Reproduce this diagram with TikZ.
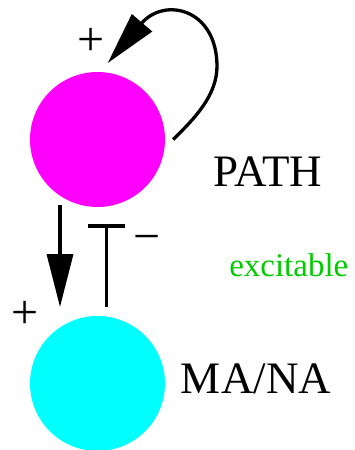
\documentclass[tikz,border=0pt]{standalone}
\usepackage{fontspec}
\setmainfont{Liberation Serif}
\usetikzlibrary{arrows.meta}
\definecolor{exgreen}{RGB}{0,204,0}
\tikzset{
  species/.style={circle, minimum size=135pt, inner sep=0pt, draw=none},
  bigtxt/.style={font=\fontsize{45}{54}\selectfont, inner sep=0pt, anchor=base},
  signtxt/.style={font=\fontsize{48}{56}\selectfont, inner sep=0pt, anchor=base},
  edge/.style={line width=3.3pt},
  act/.style={edge, -{Triangle[length=53pt, width=26pt]}},
  inh/.style={edge, -{Bar[width=37pt, line width=4pt]}}
}
\begin{document}
\begin{tikzpicture}[x=1pt, y=-1pt]
\useasboundingbox (0,0) rectangle (354,450);
\node[species, fill={rgb,255:red,255;green,0;blue,255}] (path) at (97.5,139.5) {};
\node[species, fill={rgb,255:red,0;green,255;blue,255}] (mana) at (97.5,383.5) {};
\node[bigtxt] (pathlbl) at (268,186.7) {PATH};
\node[bigtxt] (manalbl) at (256,393.3) {MA/NA};
\node[bigtxt, font=\fontsize{33}{40}\selectfont, text=exgreen] (exc) at (288.8,276.7) {excitable};
% self activation
\draw[act] ([xshift=8pt]path.east) .. controls (195,118) and (217.5,95) .. (217,65)
  .. controls (216,8) and (164,-3) .. ([xshift=10.2pt, yshift=8.7pt]path.north);
\node[signtxt] (p1) at (91,55.3) {+};
% activation PATH -> MA/NA
\draw[act] ([xshift=-37.5pt, yshift=2pt]path.south) -- ([xshift=-37.5pt, yshift=8.7pt]mana.north);
\node[signtxt] (p2) at (25,328.7) {+};
% inhibition MA/NA -| PATH
\draw[inh] ([xshift=9.2pt, yshift=8.7pt]mana.north) -- ([xshift=9.2pt, yshift=-17pt]path.south);
\node[signtxt] (m1) at (147,252.7) {−};
\end{tikzpicture}
\end{document}
